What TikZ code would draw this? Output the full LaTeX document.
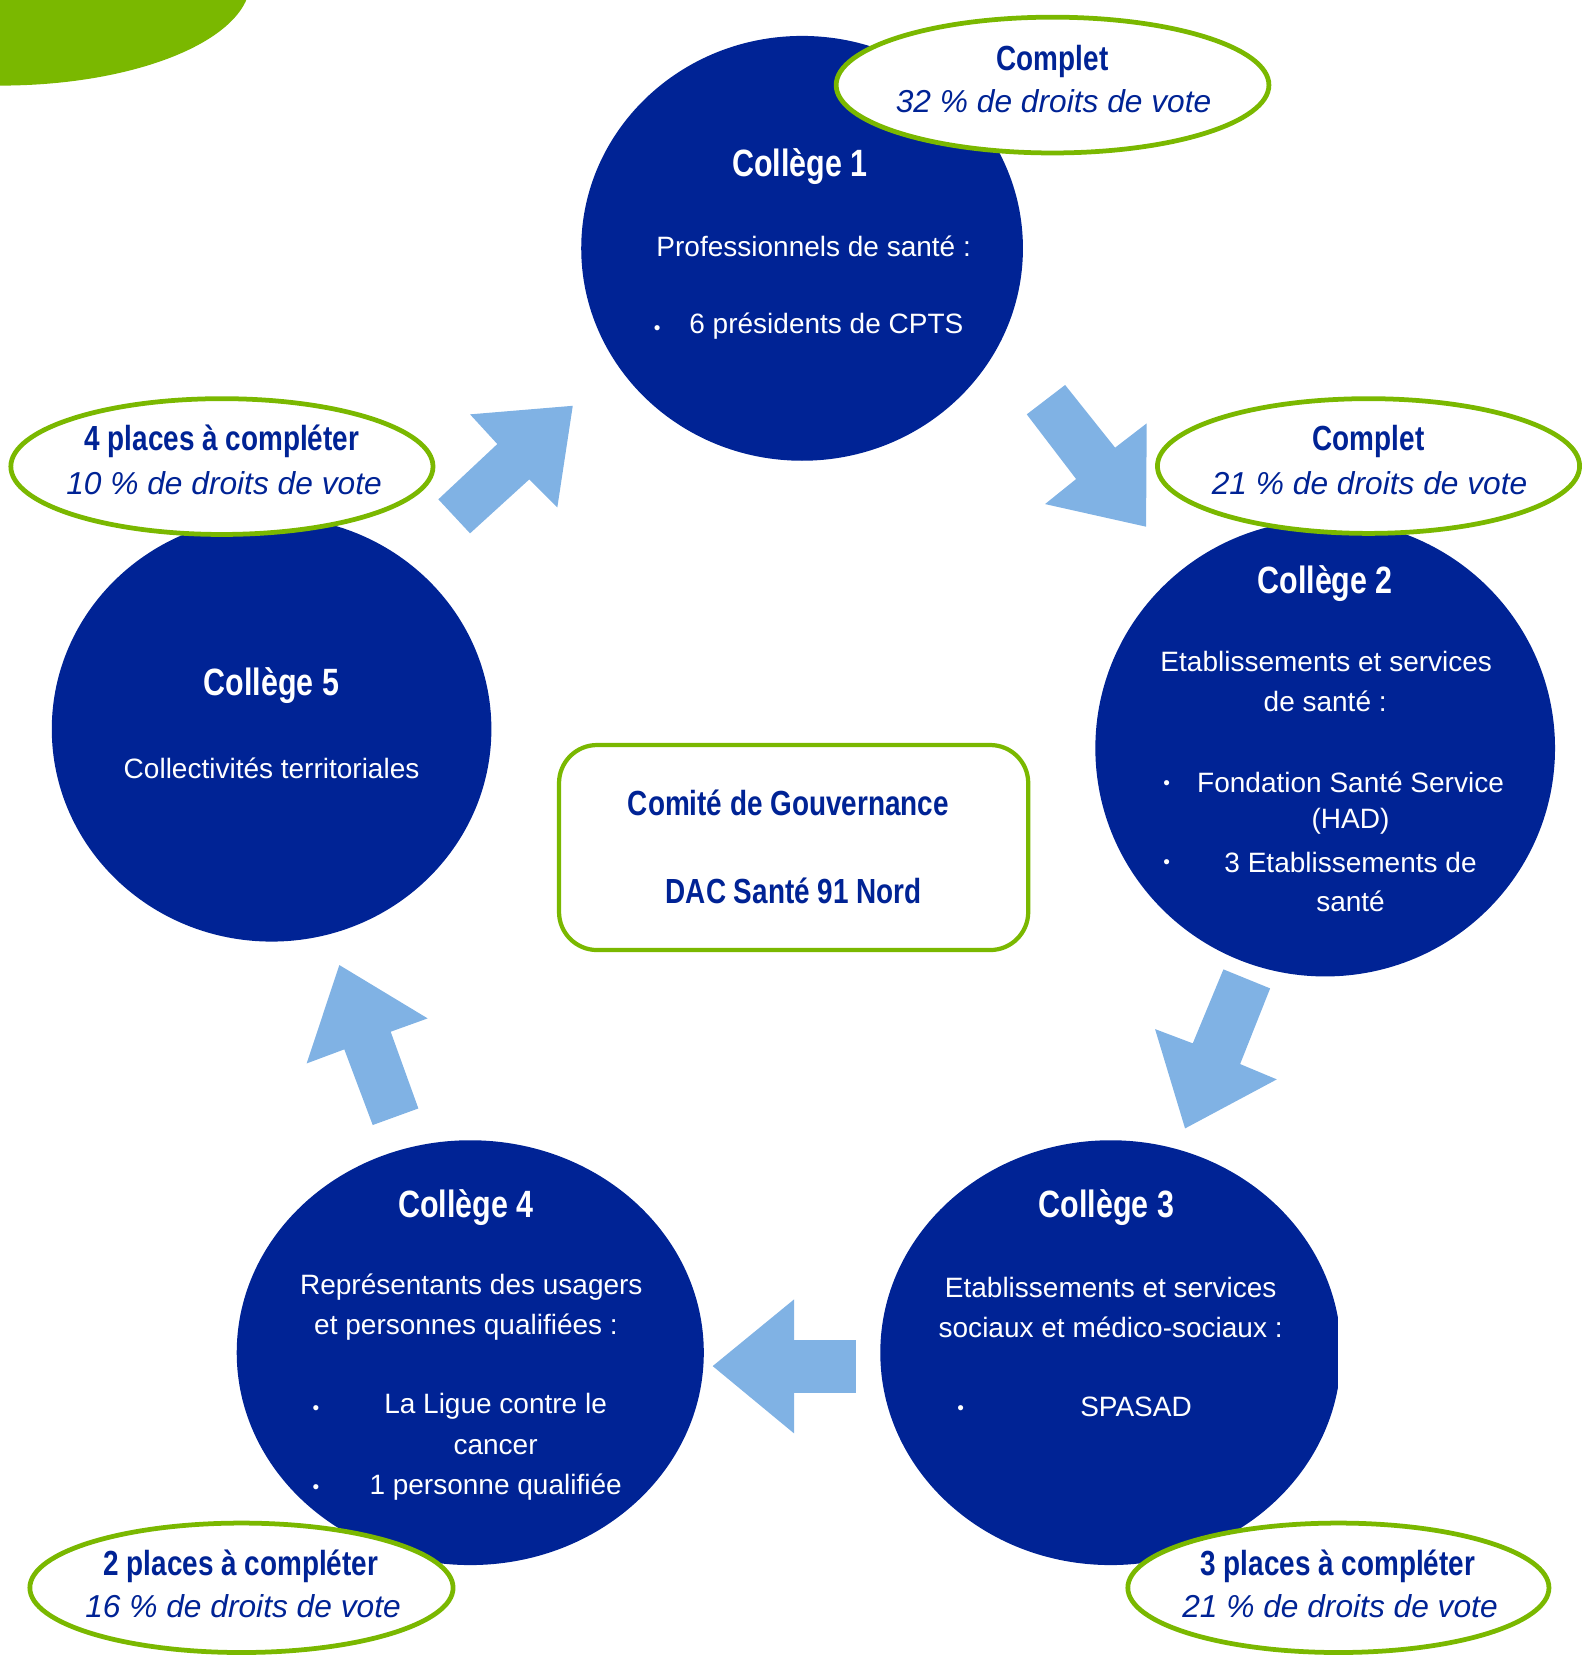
\documentclass[tikz,border=0pt]{standalone}
\usepackage{fontspec}
\setmainfont{Liberation Sans}
\newfontfamily\condfont[FakeStretch=0.8]{Liberation Sans}
\usetikzlibrary{shapes.geometric}
\definecolor{navy}{RGB}{0,35,149}
\definecolor{leaf}{RGB}{122,184,0}
\definecolor{sky}{RGB}{128,178,228}
\begin{document}
\begin{tikzpicture}[x=1pt,y=-1pt,
  college/.style={ellipse, fill=navy, draw=none, inner sep=0pt},
  tag/.style={ellipse, draw=leaf, line width=4.5pt, fill=white, inner sep=0pt},
  govbox/.style={draw=leaf, line width=4pt, fill=white, rounded corners=36pt, inner sep=0pt},
  ttl/.style={text=white, inner sep=0pt, yshift=-3pt, font=\condfont\bfseries\fontsize{36}{40}\selectfont},
  body/.style={text=white, inner sep=0pt, font=\fontsize{26.5}{32}\selectfont},
  bul/.style={text=white, inner sep=0pt, font=\fontsize{18}{20}\selectfont},
  tagb/.style={text=navy, inner sep=0pt, yshift=-3pt, font=\condfont\bfseries\fontsize{33}{36}\selectfont},
  tagi/.style={text=navy, inner sep=0pt, font=\itshape\fontsize{30}{34}\selectfont},
  blk/.style={fill=sky, draw=none}]
\useasboundingbox (0,0) rectangle (1499,1568);
% green corner blob
\begin{scope}
\clip (0,0) rectangle (1499,1568);
\fill[leaf] (0,-18) ellipse [x radius=237, y radius=99];
\end{scope}
% colleges
\node[college, minimum width=418pt, minimum height=402pt] (c1) at (759,235) {};
\node[college, minimum width=435pt, minimum height=432pt] (c2) at (1254,708) {};
\begin{scope}
\clip (0,0) rectangle (1266,1568);
\node[college, minimum width=436pt, minimum height=402pt] (c3) at (1051,1280) {};
\end{scope}
\node[college, minimum width=442pt, minimum height=402pt] (c4) at (445,1280) {};
\node[college, minimum width=416pt, minimum height=402pt] (c5) at (257,690) {};
% block arrows
\fill[blk] (542,384) -- (444.8,392.1) -- (470.6,420.2) -- (414.8,472.5) -- (444.8,504.7) -- (500.9,453.6) -- (527.4,480.1) -- cycle;
\fill[blk] (1084.5,498.4) -- (988.9,477.0) -- (1018.3,453.3) -- (971.6,392.1) -- (1007.9,364.3) -- (1055.2,423.6) -- (1085.1,400.6) -- cycle;
\fill[blk] (1121.4,1067.8) -- (1093.0,973.8) -- (1128.7,987.3) -- (1157.7,917.3) -- (1201.9,935.3) -- (1173.5,1006.9) -- (1208.2,1021.4) -- cycle;
\fill[blk] (674.4,1292.7) -- (751.4,1229.6) -- (751.4,1268.1) -- (809.8,1268.1) -- (809.8,1318.0) -- (751.4,1318.0) -- (751.4,1356.4) -- cycle;
\fill[blk] (321.1,913.2) -- (404.7,963.7) -- (369.7,976.3) -- (395.9,1048.9) -- (352.7,1064.6) -- (325.8,993.0) -- (290.2,1006.3) -- cycle;
% college texts
\node[ttl] (c1t) at (757,155) {Collège 1};
\node[body] (c1a) at (770,233) {Professionnels de santé :};
\node[bul] (c1b) at (622,312) {•};
\node[body] (c1c) at (782,309) {6 présidents de CPTS};

\node[ttl] (c2t) at (1254,549) {Collège 2};
\node[body] (c2a) at (1255,626) {Etablissements et services};
\node[body] (c2b) at (1254,664) {de santé :};
\node[bul] (c2c) at (1104,743) {•};
\node[body] (c2d) at (1278,740) {Fondation Santé Service};
\node[body] (c2e) at (1278,777) {(HAD)};
\node[bul] (c2f) at (1104,818) {•};
\node[body] (c2g) at (1278,816) {3 Etablissements de};
\node[body] (c2h) at (1278,853) {santé};

\node[ttl] (c3t) at (1047,1140) {Collège 3};
\node[body] (c3a) at (1051,1218) {Etablissements et services};
\node[body] (c3b) at (1051,1256) {sociaux et médico-sociaux :};
\node[bul] (c3c) at (909,1334) {•};
\node[body] (c3d) at (1075,1331) {SPASAD};

\node[ttl] (c4t) at (441,1140) {Collège 4};
\node[body] (c4a) at (446,1218) {Représentants des usagers};
\node[body] (c4b) at (441,1256) {et personnes qualifiées :};
\node[bul] (c4c) at (299,1334) {•};
\node[body] (c4d) at (469,1331) {La Ligue contre le};
\node[body] (c4e) at (469,1369) {cancer};
\node[bul] (c4f) at (299,1409) {•};
\node[body] (c4g) at (469,1407) {1 personne qualifiée};

\node[ttl] (c5t) at (257,646) {Collège 5};
\node[body] (c5a) at (257,727) {Collectivités territoriales};
% tags
\node[tag, minimum width=409.5pt, minimum height=128.5pt] (t1) at (996,80.5) {};
\node[tagb] (t1a) at (996,55) {Complet};
\node[tagi] (t1b) at (997,96) {32 \% de droits de vote};

\node[tag, minimum width=399.5pt, minimum height=127.5pt] (t2) at (1295,441) {};
\node[tagb] (t2a) at (1295,415) {Complet};
\node[tagi] (t2b) at (1296,457) {21 \% de droits de vote};

\node[tag, minimum width=398.5pt, minimum height=122.5pt] (t3) at (1266.5,1502.5) {};
\node[tagb] (t3a) at (1266,1479) {3 places à compléter};
\node[tagi] (t3b) at (1268,1520) {21 \% de droits de vote};

\node[tag, minimum width=400.5pt, minimum height=122.5pt] (t4) at (228.5,1502.5) {};
\node[tagb] (t4a) at (228,1479) {2 places à compléter};
\node[tagi] (t4b) at (230,1520) {16 \% de droits de vote};

\node[tag, minimum width=399.5pt, minimum height=128.5pt] (t5) at (210,441.5) {};
\node[tagb] (t5a) at (210,415) {4 places à compléter};
\node[tagi] (t5b) at (212,457) {10 \% de droits de vote};
% governance box
\node[govbox, minimum width=444pt, minimum height=194pt] (gov) at (751,802) {};
\node[tagb] (gova) at (746,757) {Comité de Gouvernance};
\node[tagb] (govb) at (751,840) {DAC Santé 91 Nord};
\end{tikzpicture}
\end{document}
